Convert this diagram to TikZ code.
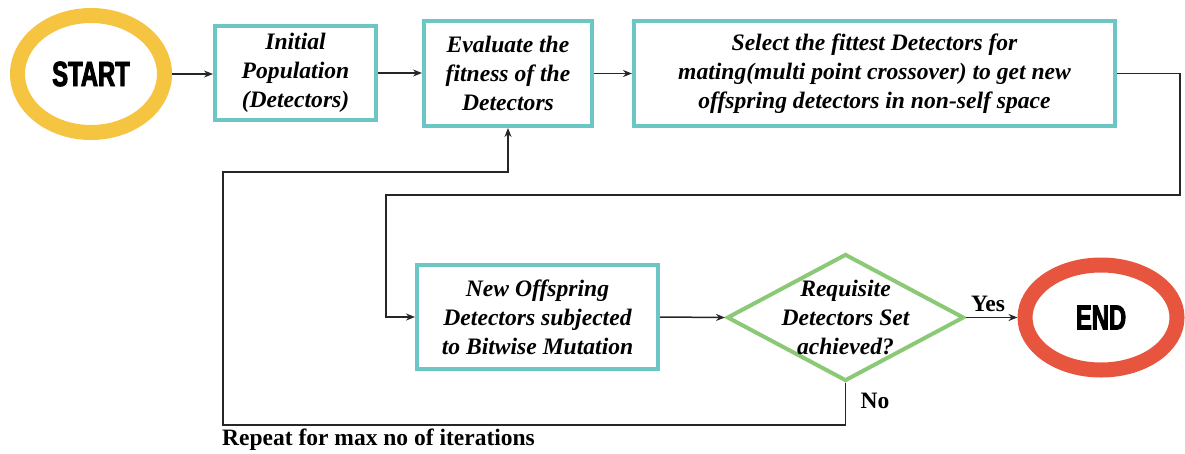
\documentclass[tikz,border=0pt]{standalone}
\usepackage{fontspec}
\setmainfont{Liberation Serif}
\newfontfamily\termfont[FakeStretch=0.68,FakeBold=2.5]{Liberation Sans}
\usetikzlibrary{shapes.geometric,arrows.meta}
\definecolor{termyellow}{HTML}{F5C542}
\definecolor{termred}{HTML}{E8553F}
\definecolor{boxteal}{HTML}{6CC6C3}
\definecolor{decgreen}{HTML}{8CC977}
\begin{document}
\begin{tikzpicture}[x=1pt,y=-1pt,
  terminal/.style={ellipse,line width=15pt,inner sep=0pt,
    font=\termfont\bfseries\fontsize{35}{35}\selectfont},
  procbox/.style={rectangle,draw=boxteal,line width=4pt,inner sep=0pt,align=center,
    font=\bfseries\itshape\fontsize{23.6}{29}\selectfont},
  decision/.style={diamond,draw=decgreen,line width=4pt,inner sep=0pt},
  lbl/.style={inner sep=0pt,font=\bfseries\fontsize{23.5}{27}\selectfont},
  conn/.style={line width=1.5pt,draw=black!85},
  arr/.style={conn,-{Stealth[length=9pt,width=7pt]}}]
\useasboundingbox (0,0) rectangle (1185,453);

% terminals
\node[terminal,draw=termyellow,minimum width=147pt,minimum height=117pt] (start) at (91,74) {START};
\node[terminal,draw=termred,minimum width=152pt,minimum height=105pt] (end) at (1101,317.5) {END};

% process boxes
\node[procbox,minimum width=161pt,minimum height=94pt] (init) at (295.5,73)
  {Initial\\Population\\(Detectors)};
\node[procbox,minimum width=168pt,minimum height=105pt] (eval) at (508,73.5)
  {Evaluate the\\fitness of the\\Detectors};
\node[procbox,minimum width=481pt,minimum height=105pt] (sel) at (874.5,73.5)
  {Select the fittest Detectors for\\mating(multi point crossover) to get new\\offspring detectors in non-self space};
\node[procbox,minimum width=241pt,minimum height=104pt] (off) at (537.5,317)
  {New Offspring\\Detectors subjected\\to Bitwise Mutation};

% decision
\node[decision,minimum width=237pt,minimum height=127pt] (dec) at (845.5,317.5) {};
\node[procbox,draw=none,inner sep=0pt] (dectext) at (dec.center)
  {Requisite\\Detectors Set\\achieved?};

% routing points
\coordinate (r1) at (1180,195);
\coordinate (r2) at (386,195);
\coordinate (f1) at (223,425);
\coordinate (f2) at (223,172);

% main flow
\draw[arr] (start.east) -- (start.east -| init.west);
\draw[arr] (init.east) -- (init.east -| eval.west);
\draw[arr] (eval.east) -- (sel.west);
\draw[arr] (sel.east) -| (r1) -- (r2) |- (off.west);
\draw[arr] (off.east) -- (dec.west);
\draw[arr] (dec.east) -- (dec.east -| end.west);

% loop back
\draw[arr] (dec.south) |- (f1) -- (f2) -| (eval.south);

% labels
\node[lbl] (yes) at (988,304) {Yes};
\node[lbl] (no) at (875,401) {No};
\node[lbl,anchor=west] (repeat) at (222,440) {Repeat for max no of iterations};
\end{tikzpicture}
\end{document}
